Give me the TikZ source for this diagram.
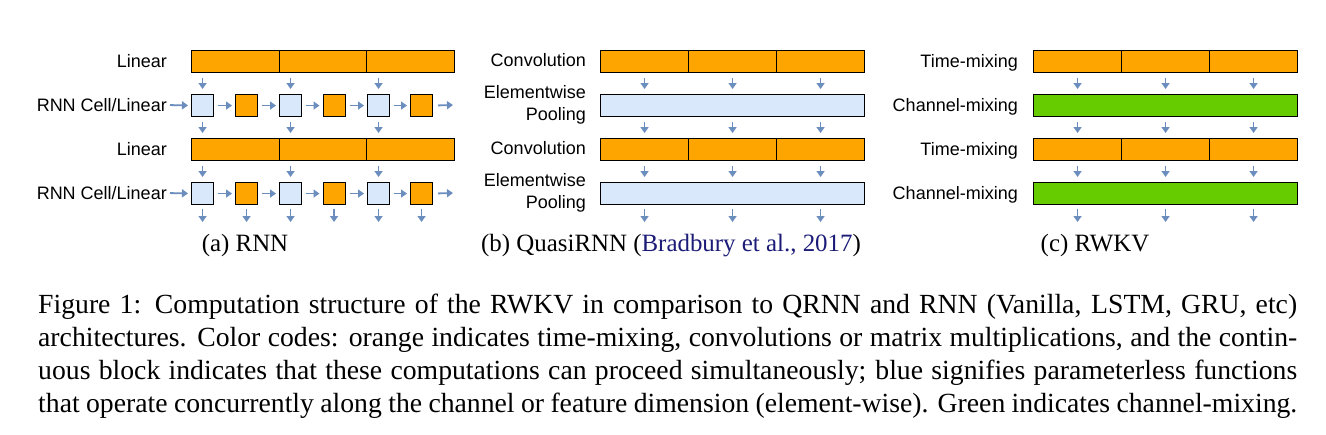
\documentclass[tikz,border=0pt]{standalone}
\usepackage{fontspec}
\setmainfont{Liberation Serif}
\newfontfamily\labelfont{Liberation Sans}
\usetikzlibrary{arrows.meta}
\definecolor{orng}{HTML}{FFA500}
\definecolor{lblue}{HTML}{DAE8FC}
\definecolor{grn}{HTML}{66CC00}
\definecolor{arr}{HTML}{6C8EBF}
\definecolor{citeblue}{HTML}{1C1C78}
\begin{document}
\begin{tikzpicture}[x=1pt,y=-1pt,
  box/.style={draw=black, line width=1.1pt, inner sep=0pt, anchor=north west, minimum height=22pt},
  seg/.style={box, fill=orng, minimum width=88pt},
  sq/.style={box, minimum width=22pt},
  flow/.style={draw=arr, line width=1.8pt, -{Triangle[length=6pt,width=8pt]}, shorten <=5pt, shorten >=5pt},
  hflow/.style={flow, shorten <=4pt, shorten >=3pt},
  lab/.style={font=\labelfont\fontsize{18}{21.7}\selectfont, anchor=base east, inner sep=0pt},
  lab2/.style={font=\labelfont\fontsize{18}{21.7}\selectfont, anchor=east, inner sep=0pt, align=right},
  sub/.style={font=\fontsize{24.9}{30}\selectfont, anchor=base, inner sep=0pt},
  captext/.style={font=\fontsize{27.7}{33.3}\selectfont, anchor=base west, inner sep=0pt}]
\fill[white] (0,0) rectangle (1326,434);
\useasboundingbox (0,0) rectangle (1326,434);

% ---------- (a) RNN ----------
\node[lab] (aL1) at (167,67) {Linear};
\node[lab] (aC1) at (167,111) {RNN Cell/Linear};
\node[lab] (aL2) at (167,155) {Linear};
\node[lab] (aC2) at (167,199) {RNN Cell/Linear};
\foreach \i in {0,1,2}{
  \node[seg, minimum width=87.67pt] (aLa\i) at ({191+87.67*\i},50) {};
  \node[seg, minimum width=87.67pt] (aLb\i) at ({191+87.67*\i},138) {};
  \node[sq, fill=lblue] (aPa\i) at ({191+88*\i},94) {};
  \node[sq, fill=orng] (aOa\i) at ({235+87.5*\i},94) {};
  \node[sq, fill=lblue] (aPb\i) at ({191+88*\i},182) {};
  \node[sq, fill=orng] (aOb\i) at ({235+87.5*\i},182) {};
}
\foreach \i in {0,1,2}{
  \draw[flow] (aPa\i.north |- aLa0.south) -- (aPa\i.north);
  \draw[flow] (aPa\i.south) -- (aPa\i.south |- aLb0.north);
  \draw[flow] (aPb\i.north |- aLb0.south) -- (aPb\i.north);
  \draw[hflow] (aPa\i.east) -- (aOa\i.west);
  \draw[hflow] (aPb\i.east) -- (aOb\i.west);
  \coordinate (aEp\i) at (aPb\i.south |- 0,222);
  \coordinate (aEo\i) at (aOb\i.south |- 0,222);
  \draw[flow, shorten <=4pt, shorten >=0pt] (aPb\i.south) -- (aEp\i);
  \draw[flow, shorten <=4pt, shorten >=0pt] (aOb\i.south) -- (aEo\i);
}
\coordinate (aInA) at (167,105);
\coordinate (aInB) at (167,193);
\draw[hflow, shorten <=3pt] (aInA) -- (aPa0.west);
\draw[hflow, shorten <=3pt] (aInB) -- (aPb0.west);
\draw[hflow] (aOa0.east) -- (aPa1.west);
\draw[hflow] (aOa1.east) -- (aPa2.west);
\draw[hflow] (aOb0.east) -- (aPb1.west);
\draw[hflow] (aOb1.east) -- (aPb2.west);
\coordinate (aOutA) at (453,105);
\coordinate (aOutB) at (453,193);
\draw[hflow, shorten <=5pt, shorten >=0pt] (aOa2.east) -- (aOutA);
\draw[hflow, shorten <=5pt, shorten >=0pt] (aOb2.east) -- (aOutB);
\node[sub] (aSub) at (245,251) {(a) RNN};

% ---------- (b) QuasiRNN ----------
\node[lab] (bL1) at (586,66) {Convolution};
\node[lab2] (bL2) at (586,104.5) {Elementwise\\Pooling};
\node[lab] (bL3) at (586,154) {Convolution};
\node[lab2] (bL4) at (586,192.5) {Elementwise\\Pooling};
\foreach \i in {0,1,2}{
  \node[seg] (bCa\i) at ({600+88*\i},50) {};
  \node[seg] (bCb\i) at ({600+88*\i},138) {};
}
\node[box, fill=lblue, minimum width=264pt] (bPa) at (600,94) {};
\node[box, fill=lblue, minimum width=264pt] (bPb) at (600,182) {};
\foreach \i in {0,1,2}{
  \draw[flow] (bCa\i.south) -- (bCa\i.south |- bPa.north);
  \draw[flow] (bCb\i.north |- bPa.south) -- (bCb\i.north);
  \draw[flow] (bCb\i.south) -- (bCb\i.south |- bPb.north);
  \coordinate (bE\i) at (bCb\i.south |- 0,222);
  \draw[flow, shorten <=4pt, shorten >=0pt] (bCb\i.south |- bPb.south) -- (bE\i);
}
\node[sub] (bSub) at (671,251) {(b) QuasiRNN (\textcolor{citeblue}{Bradbury et al., 2017})};

% ---------- (c) RWKV ----------
\node[lab] (cL1) at (1018,67) {Time-mixing};
\node[lab] (cL2) at (1018,111) {Channel-mixing};
\node[lab] (cL3) at (1018,155) {Time-mixing};
\node[lab] (cL4) at (1018,199) {Channel-mixing};
\foreach \i in {0,1,2}{
  \node[seg] (cTa\i) at ({1033+88*\i},50) {};
  \node[seg] (cTb\i) at ({1033+88*\i},138) {};
}
\node[box, fill=grn, minimum width=264pt] (cGa) at (1033,94) {};
\node[box, fill=grn, minimum width=264pt] (cGb) at (1033,182) {};
\foreach \i in {0,1,2}{
  \draw[flow] (cTa\i.south) -- (cTa\i.south |- cGa.north);
  \draw[flow] (cTb\i.north |- cGa.south) -- (cTb\i.north);
  \draw[flow] (cTb\i.south) -- (cTb\i.south |- cGb.north);
  \coordinate (cE\i) at (cTb\i.south |- 0,222);
  \draw[flow, shorten <=4pt, shorten >=0pt] (cTb\i.south |- cGb.south) -- (cE\i);
}
\node[sub] (cSub) at (1095,251) {(c) RWKV};

% ---------- caption ----------
\node[captext] (cap1) at (38,313) {\makebox[1259pt][s]{Figure 1: Computation structure of the RWKV in comparison to QRNN and RNN (Vanilla, LSTM, GRU, etc)}};
\node[captext] (cap2) at (38,346.3) {\makebox[1259pt][s]{architectures. Color codes: orange indicates time-mixing, convolutions or matrix multiplications, and the contin-}};
\node[captext] (cap3) at (38,379.6) {\makebox[1259pt][s]{uous block indicates that these computations can proceed simultaneously; blue signifies parameterless functions}};
\node[captext] (cap4) at (38,412.9) {\makebox[1259pt][s]{that operate concurrently along the channel or feature dimension (element-wise). Green indicates channel-mixing.}};
\end{tikzpicture}
\end{document}
